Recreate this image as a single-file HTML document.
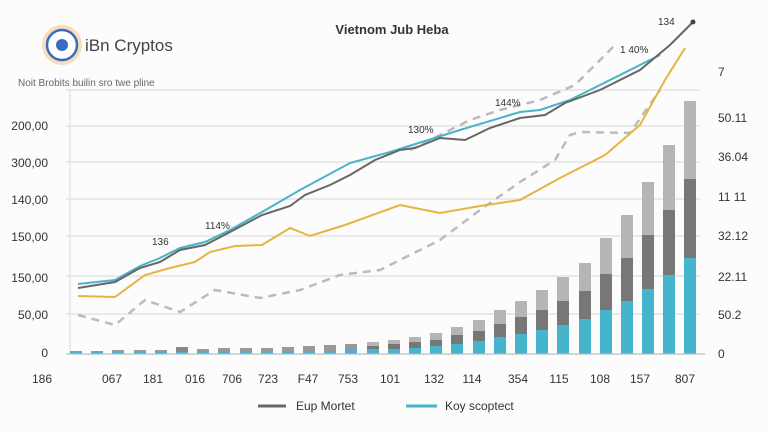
<!DOCTYPE html><html><head><style>body{margin:0;background:#fff}svg{display:block}text{font-family:"Liberation Sans",sans-serif}</style></head><body>
<svg width="768" height="432" viewBox="0 0 768 432">
<rect width="768" height="432" fill="#fcfcfc"/>
<g stroke="#ddd" stroke-width="1.2">
<line x1="66" y1="90" x2="700" y2="90"/><line x1="66" y1="126" x2="700" y2="126"/><line x1="66" y1="162" x2="700" y2="162"/><line x1="66" y1="199" x2="700" y2="199"/><line x1="66" y1="236" x2="700" y2="236"/><line x1="66" y1="276" x2="700" y2="276"/><line x1="66" y1="314" x2="700" y2="314"/>
</g>
<line x1="70" y1="90" x2="70" y2="354" stroke="#ddd"/>
<g>
<rect x="684" y="101" width="12" height="78" fill="#b5b5b5"/><rect x="684" y="179" width="12" height="79" fill="#777"/><rect x="684" y="258" width="12" height="96" fill="#45b4cc"/>
<rect x="663" y="145" width="12" height="65" fill="#b5b5b5"/><rect x="663" y="210" width="12" height="65" fill="#777"/><rect x="663" y="275" width="12" height="79" fill="#45b4cc"/>
<rect x="642" y="182" width="12" height="53" fill="#b5b5b5"/><rect x="642" y="235" width="12" height="54" fill="#777"/><rect x="642" y="289" width="12" height="65" fill="#45b4cc"/>
<rect x="621" y="215" width="12" height="43" fill="#b5b5b5"/><rect x="621" y="258" width="12" height="43" fill="#777"/><rect x="621" y="301" width="12" height="53" fill="#45b4cc"/>
<rect x="600" y="238" width="12" height="36" fill="#b5b5b5"/><rect x="600" y="274" width="12" height="36" fill="#777"/><rect x="600" y="310" width="12" height="44" fill="#45b4cc"/>
<rect x="579" y="263" width="12" height="28" fill="#b5b5b5"/><rect x="579" y="291" width="12" height="28" fill="#777"/><rect x="579" y="319" width="12" height="35" fill="#45b4cc"/>
<rect x="557" y="277" width="12" height="24" fill="#b5b5b5"/><rect x="557" y="301" width="12" height="24" fill="#777"/><rect x="557" y="325" width="12" height="29" fill="#45b4cc"/>
<rect x="536" y="290" width="12" height="20" fill="#b5b5b5"/><rect x="536" y="310" width="12" height="20" fill="#777"/><rect x="536" y="330" width="12" height="24" fill="#45b4cc"/>
<rect x="515" y="301" width="12" height="16" fill="#b5b5b5"/><rect x="515" y="317" width="12" height="17" fill="#777"/><rect x="515" y="334" width="12" height="20" fill="#45b4cc"/>
<rect x="494" y="310" width="12" height="14" fill="#b5b5b5"/><rect x="494" y="324" width="12" height="13" fill="#777"/><rect x="494" y="337" width="12" height="17" fill="#45b4cc"/>
<rect x="473" y="320" width="12" height="11" fill="#b5b5b5"/><rect x="473" y="331" width="12" height="10" fill="#777"/><rect x="473" y="341" width="12" height="13" fill="#45b4cc"/>
<rect x="451" y="327" width="12" height="8" fill="#b5b5b5"/><rect x="451" y="335" width="12" height="9" fill="#777"/><rect x="451" y="344" width="12" height="10" fill="#45b4cc"/>
<rect x="430" y="333" width="12" height="7" fill="#b5b5b5"/><rect x="430" y="340" width="12" height="6" fill="#777"/><rect x="430" y="346" width="12" height="8" fill="#45b4cc"/>
<rect x="409" y="337" width="12" height="5" fill="#b5b5b5"/><rect x="409" y="342" width="12" height="6" fill="#777"/><rect x="409" y="348" width="12" height="6" fill="#45b4cc"/>
<rect x="388" y="340" width="12" height="4" fill="#b5b5b5"/><rect x="388" y="344" width="12" height="5" fill="#777"/><rect x="388" y="349" width="12" height="5" fill="#45b4cc"/>
<rect x="367" y="342" width="12" height="4" fill="#b5b5b5"/><rect x="367" y="346" width="12" height="3" fill="#777"/><rect x="367" y="349" width="12" height="5" fill="#45b4cc"/>
<rect x="345" y="344" width="12" height="6" fill="#999"/><rect x="345" y="350" width="12" height="4" fill="#45b4cc"/>
<rect x="324" y="345" width="12" height="6" fill="#999"/><rect x="324" y="351" width="12" height="3" fill="#45b4cc"/>
<rect x="303" y="346" width="12" height="5" fill="#999"/><rect x="303" y="351" width="12" height="3" fill="#45b4cc"/>
<rect x="282" y="347" width="12" height="4" fill="#999"/><rect x="282" y="351" width="12" height="3" fill="#45b4cc"/>
<rect x="261" y="348" width="12" height="4" fill="#999"/><rect x="261" y="352" width="12" height="2" fill="#45b4cc"/>
<rect x="240" y="348" width="12" height="4" fill="#999"/><rect x="240" y="352" width="12" height="2" fill="#45b4cc"/>
<rect x="218" y="348" width="12" height="4" fill="#999"/><rect x="218" y="352" width="12" height="2" fill="#45b4cc"/>
<rect x="197" y="349" width="12" height="3" fill="#999"/><rect x="197" y="352" width="12" height="2" fill="#45b4cc"/>
<rect x="176" y="347" width="12" height="5" fill="#888"/><rect x="176" y="352" width="12" height="2" fill="#45b4cc"/>
<rect x="155" y="350" width="12" height="2" fill="#999"/><rect x="155" y="352" width="12" height="2" fill="#45b4cc"/>
<rect x="134" y="350" width="12" height="2" fill="#999"/><rect x="134" y="352" width="12" height="2" fill="#45b4cc"/>
<rect x="112" y="350" width="12" height="2" fill="#999"/><rect x="112" y="352" width="12" height="2" fill="#45b4cc"/>
<rect x="91" y="351" width="12" height="1" fill="#999"/><rect x="91" y="352" width="12" height="2" fill="#45b4cc"/>
<rect x="70" y="351" width="12" height="1" fill="#999"/><rect x="70" y="352" width="12" height="2" fill="#45b4cc"/>
</g>
<line x1="66" y1="354" x2="705" y2="354" stroke="#bbb" stroke-width="1.2"/>
<polyline fill="none" stroke="#bbb" stroke-width="2.5" stroke-dasharray="8,6" points="78,315 115,325 145,300 180,312 215,290 260,298 300,290 340,275 380,270 440,240 480,210 520,182 555,160 570,135 580,132 630,133 660,90"/>
<polyline fill="none" stroke="#bbb" stroke-width="2.5" stroke-dasharray="8,6" points="410,150 440,135 470,120 500,110 540,100 575,85 600,60 615,45"/>
<polyline fill="none" stroke="#e8b341" stroke-width="2" points="78,296 115,297 145,275 170,268 195,262 210,252 235,246 262,245 290,228 310,236 345,225 400,205 440,213 480,206 520,200 560,178 605,155 640,125 665,80 685,48"/>
<polyline fill="none" stroke="#4ab3c8" stroke-width="2" points="78,284 115,280 140,266 160,258 180,248 205,242 230,230 262,212 300,190 350,163 390,152 460,130 520,112 540,110 570,100 600,85 640,65 660,55"/>
<polyline fill="none" stroke="#666" stroke-width="2" points="78,288 115,282 140,268 160,262 180,250 205,245 230,232 262,215 290,206 305,195 330,185 350,175 375,160 400,150 415,148 440,138 465,140 490,128 520,118 545,115 565,103 600,90 640,70 670,45 693,22"/>
<circle cx="693" cy="22" r="2.5" fill="#444"/>
<g font-size="10" fill="#333"><text x="152" y="245">136</text><text x="205" y="229">114%</text><text x="408" y="133">130%</text><text x="495" y="106">144%</text><text x="620" y="53">1 40%</text><text x="658" y="25">134</text></g>
<text x="392" y="34" font-size="13" font-weight="bold" fill="#333" text-anchor="middle">Vietnom Jub Heba</text>
<circle cx="62" cy="45" r="20" fill="#f6c88a" opacity="0.6"/>
<circle cx="62" cy="45" r="15" fill="#fff" stroke="#3a6bc4" stroke-width="2.5"/>
<circle cx="62" cy="45" r="6" fill="#3a6bc4"/>
<text x="85" y="51" font-size="17" fill="#444">iBn Cryptos</text>
<text x="18" y="86" font-size="10" fill="#666">Noit Brobits builin sro twe pline</text>
<g font-size="12" fill="#333" text-anchor="end"><text x="48" y="130">200,00</text><text x="48" y="167">300,00</text><text x="48" y="204">140,00</text><text x="48" y="241">150,00</text><text x="48" y="282">150,00</text><text x="48" y="319">50,00</text><text x="48" y="357">0</text></g>
<g font-size="12" fill="#333"><text x="718" y="76">7</text><text x="718" y="122">50.11</text><text x="718" y="161">36.04</text><text x="718" y="201">11 11</text><text x="718" y="240">32.12</text><text x="718" y="281">22.11</text><text x="718" y="319">50.2</text><text x="718" y="358">0</text></g>
<g font-size="12" fill="#333" text-anchor="middle"><text x="42" y="383">186</text><text x="112" y="383">067</text><text x="153" y="383">181</text><text x="195" y="383">016</text><text x="232" y="383">706</text><text x="268" y="383">723</text><text x="308" y="383">F47</text><text x="348" y="383">753</text><text x="390" y="383">101</text><text x="434" y="383">132</text><text x="472" y="383">114</text><text x="518" y="383">354</text><text x="559" y="383">115</text><text x="600" y="383">108</text><text x="640" y="383">157</text><text x="685" y="383">807</text></g>
<line x1="258" y1="406" x2="286" y2="406" stroke="#666" stroke-width="3"/><text x="296" y="410" font-size="12" fill="#333">Eup Mortet</text>
<line x1="406" y1="406" x2="437" y2="406" stroke="#4ab3c8" stroke-width="3"/><text x="445" y="410" font-size="12" fill="#333">Koy scoptect</text>
</svg></body></html>
